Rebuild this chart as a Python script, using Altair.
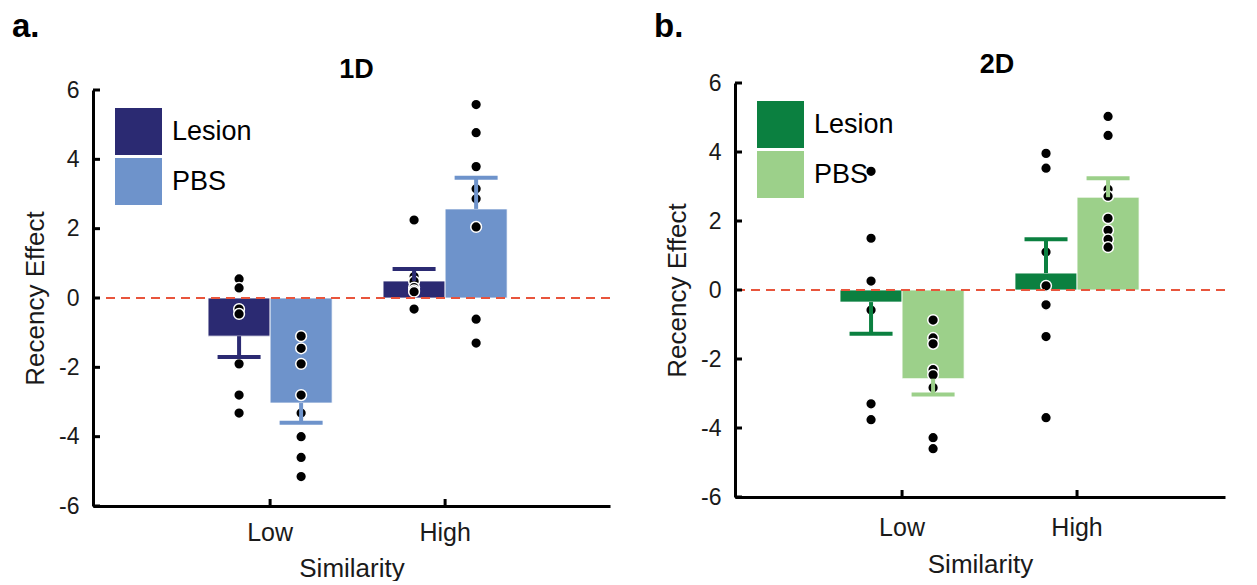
import altair as alt
import pandas as pd

FONT = "Liberation Sans"

similarity = ["Low", "High"]
groups = ["Lesion", "PBS"]
y_ticks = [-6, -4, -2, 0, 2, 4, 6]

# ---- Panel a: 1D ----
a_mean_lesion = [-1.10, 0.49]
a_mean_pbs = [-3.03, 2.57]
a_sem_lesion = [0.60, 0.35]
a_sem_pbs = [0.57, 0.90]
a_pts_lesion_low = [0.55, 0.29, -0.32, -0.46, -1.90, -2.80, -3.32]
a_pts_pbs_low = [-1.10, -1.45, -1.90, -2.80, -3.32, -4.00, -4.60, -5.15]
a_pts_lesion_high = [2.25, 0.62, 0.48, 0.30, 0.22, 0.18, -0.32]
a_pts_pbs_high = [5.58, 4.77, 3.79, 3.15, 2.86, 2.05, -0.61, -1.30]

# ---- Panel b: 2D ----
b_mean_lesion = [-0.35, 0.49]
b_mean_pbs = [-2.57, 2.69]
b_sem_lesion = [0.92, 0.98]
b_sem_pbs = [0.46, 0.55]
b_pts_lesion_low = [3.44, 1.50, 0.26, -0.58, -3.30, -3.76]
b_pts_pbs_low = [-0.87, -1.39, -1.56, -2.31, -2.46, -2.83, -4.28, -4.60]
b_pts_lesion_high = [3.96, 3.53, 1.10, 0.12, -0.43, -1.35, -3.70]
b_pts_pbs_high = [5.03, 4.48, 2.92, 2.72, 2.08, 1.73, 1.47, 1.24]

colors_a = ["#2b2a72", "#6e93cb"]
colors_b = ["#0b8040", "#9cd08a"]


def bars_frame(ml, mp, sl, sp):
    rows = []
    for i, s in enumerate(similarity):
        for g, m, e in (("Lesion", ml[i], sl[i]), ("PBS", mp[i], sp[i])):
            sign = 1 if m >= 0 else -1
            rows.append({"sim": s, "group": g, "mean": m, "end": m + sign * e})
    return pd.DataFrame(rows)


def pts_frame(ll, pl, lh, ph):
    rows = []
    for s, g, vals in (("Low", "Lesion", ll), ("Low", "PBS", pl),
                       ("High", "Lesion", lh), ("High", "PBS", ph)):
        for v in vals:
            rows.append({"sim": s, "group": g, "value": v})
    return pd.DataFrame(rows)


def panel(bars, pts, colors, letter, title, width, height, y_top, p_outer,
          align, letter_y, title_dx, title_dy, lab_pad, title_pad):
    xscale = alt.Scale(domain=similarity, paddingInner=0.291,
                       paddingOuter=p_outer, align=align, round=False)
    xaxis = alt.Axis(title="Similarity", labelAngle=0, ticks=False,
                     domainWidth=3, domainColor="black", labelFontSize=25,
                     titleFontSize=26, labelFont=FONT, titleFont=FONT,
                     titleFontWeight="normal", labelColor="#1a1a1a",
                     titleColor="#1a1a1a", labelPadding=lab_pad,
                     titlePadding=title_pad)
    yscale = alt.Scale(domain=[-6, 6], nice=False, zero=False,
                       range=[height, y_top])
    yaxis = alt.Axis(values=y_ticks, title="Recency Effect", ticks=False,
                     grid=False, domainWidth=3, domainColor="black",
                     labelFontSize=23, titleFontSize=26, labelFont=FONT,
                     titleFont=FONT, titleFontWeight="normal",
                     labelColor="#1a1a1a", titleColor="#1a1a1a",
                     labelPadding=14, titlePadding=10,
                     labelExpr="datum.value + ''")
    x = alt.X("sim:N", sort=similarity, scale=xscale, axis=xaxis)
    xo = alt.XOffset("group:N", sort=groups,
                     scale=alt.Scale(domain=groups, paddingInner=0,
                                     paddingOuter=0))
    cscale = alt.Scale(domain=groups, range=colors)

    bar = alt.Chart(bars).mark_bar(stroke="white", strokeWidth=0.8).encode(
        x=x, xOffset=xo,
        y=alt.Y("mean:Q", scale=yscale, axis=yaxis),
        y2=alt.datum(0),
        color=alt.Color("group:N", scale=cscale, legend=alt.Legend(
            orient="none", legendX=22, legendY=18 + y_top, title=None,
            symbolType="square", symbolSize=2209, symbolStrokeWidth=0,
            labelFontSize=27, labelFont=FONT, labelColor="black",
            labelOffset=10, rowPadding=3, padding=0)),
    )
    pts_layer = alt.Chart(pts).mark_circle(
        size=115, color="black", opacity=1, stroke="white", strokeWidth=1.5
    ).encode(x=x, xOffset=xo, y=alt.Y("value:Q", scale=yscale, axis=yaxis))
    stem = alt.Chart(bars).mark_rule(strokeWidth=4).encode(
        x=x, xOffset=xo, y=alt.Y("mean:Q", scale=yscale, axis=yaxis),
        y2="end:Q", color=alt.Color("group:N", scale=cscale))
    cap = alt.Chart(bars).mark_tick(orient="horizontal", size=43,
                                    thickness=4, opacity=1).encode(
        x=x, xOffset=xo, y=alt.Y("end:Q", scale=yscale, axis=yaxis),
        color=alt.Color("group:N", scale=cscale))
    zero = alt.Chart(pd.DataFrame({"z": [0]})).mark_rule(
        color="#e8553c", strokeDash=[9, 6], strokeWidth=2
    ).encode(y=alt.Y("z:Q", scale=yscale, axis=yaxis))
    yt = alt.Chart(pd.DataFrame({"v": y_ticks})).mark_rule(
        color="black", strokeWidth=3
    ).encode(y=alt.Y("v:Q", scale=yscale, axis=yaxis), x=alt.value(0),
             x2=alt.value(7))
    xt = alt.Chart(pd.DataFrame({"sim": similarity})).mark_rule(
        color="black", strokeWidth=3
    ).encode(x=x, y=alt.value(height - 7), y2=alt.value(height))
    lab = alt.Chart(pd.DataFrame({"t": [letter]})).mark_text(
        font=FONT, fontSize=33, fontWeight="bold", align="left",
        baseline="middle", color="black"
    ).encode(text="t:N", x=alt.value(-81), y=alt.value(letter_y))
    ttl = alt.Chart(pd.DataFrame({"t": [title]})).mark_text(
        font=FONT, fontSize=27, fontWeight="bold", align="center",
        baseline="middle", color="black"
    ).encode(text="t:N", x=alt.value(width / 2 + title_dx),
             y=alt.value(y_top + title_dy))
    return alt.layer(bar, pts_layer, stem, cap, zero, yt, xt, lab, ttl).properties(
        width=width, height=height)


pa = panel(bars_frame(a_mean_lesion, a_mean_pbs, a_sem_lesion, a_sem_pbs),
           pts_frame(a_pts_lesion_low, a_pts_pbs_low, a_pts_lesion_high,
                     a_pts_pbs_high),
           colors_a, "a.", "1D", 517, 416, 0, 0.6226, 0.528, -63, 5, -20,
           14, 10)
pb = panel(bars_frame(b_mean_lesion, b_mean_pbs, b_sem_lesion, b_sem_pbs),
           pts_frame(b_pts_lesion_low, b_pts_pbs_low, b_pts_lesion_high,
                     b_pts_pbs_high),
           colors_b, "b.", "2D", 490, 407, -7, 0.5457, 0.55, -63, 17, -18,
           18, 11)

chart = alt.hconcat(pa, pb, spacing=43).resolve_scale(
    color="independent", x="independent", y="independent"
).properties(
    padding={"left": 4, "top": 3, "right": 5, "bottom": 0},
    background="white",
).configure_view(stroke=None)

chart.save("out.html", embed_options={"renderer": "svg", "actions": False})
